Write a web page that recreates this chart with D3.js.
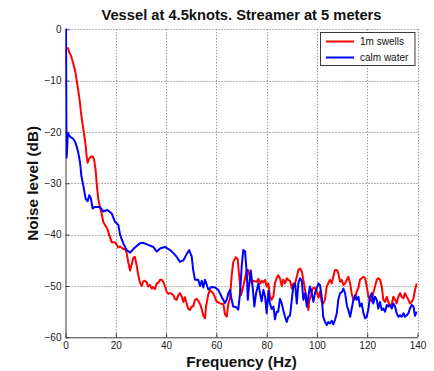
<!DOCTYPE html>
<html>
<head>
<meta charset="utf-8">
<script src="https://cdn.jsdelivr.net/npm/d3@7"></script>
<style>
  html, body { margin: 0; padding: 0; background: #fff; }
  svg { display: block; font-family: "Liberation Sans", Arial, Helvetica, sans-serif; }
</style>
</head>
<body>
<svg id="chart" width="434" height="371"></svg>
<script>
// ---------- data (frequency in Hz, noise level in dB) ----------
const titleText = "Vessel at 4.5knots. Streamer at 5 meters";
const xLabel = "Frequency (Hz)";
const yLabel = "Noise level (dB)";
const xTicks = [0, 20, 40, 60, 80, 100, 120, 140];
const yTicks = [-60, -50, -40, -30, -20, -10, 0];
const seriesNames = ["1m swells", "calm water"];
const seriesColors = ["#ff0000", "#0000ff"];

const swells = [
  [0.0,-7],[0.2,-3.7],[1.0,-3.7],[1.5,-4.5],[2.3,-5.3],[3.0,-6.5],[3.8,-8],[4.4,-9.8],
  [5.1,-12],[5.8,-14.5],[6.1,-16],[6.5,-17.5],[7.1,-19.5],[7.7,-21.5],[8.1,-23],[8.4,-24.8],
  [8.8,-26],[9.4,-25.2],[10.1,-24.8],[10.9,-24.8],[11.4,-25.5],[12.0,-27.5],[12.4,-30],
  [13.0,-32.9],[13.7,-34.6],[14.4,-36],[15.0,-37.5],[15.7,-38.1],[16.6,-38.8],[17.4,-40.1],
  [18.4,-41.5],[19.7,-41.5],[21.0,-42.5],[21.7,-42.3],[23.0,-42.8],[23.7,-42.8],[24.3,-43.5],
  [25.0,-45.5],[25.7,-47],[26.3,-45.8],[27.0,-44.5],[27.6,-44.3],[28.3,-46],[29.0,-48],
  [29.6,-49.3],[30.3,-50],[30.9,-49.1],[31.6,-49],[32.3,-49.3],[32.9,-50.1],[33.6,-49.8],
  [34.3,-50.5],[34.9,-50.2],[35.6,-50.6],[36.3,-49.5],[36.9,-49.4],[37.6,-48.8],[38.3,-48.8],
  [38.9,-49.2],[39.6,-50.1],[40.3,-51.2],[40.9,-51.5],[41.6,-51.4],[42.2,-51.5],[42.9,-51.8],
  [43.5,-52.5],[44.2,-52.7],[44.9,-51.8],[45.5,-51.4],[46.2,-52],[46.9,-53.1],[47.5,-52.2],
  [48.2,-53.5],[48.8,-54.4],[49.5,-54.7],[50.2,-54],[50.8,-54],[51.5,-52.7],[52.2,-52.5],
  [52.8,-52.9],[53.5,-53.5],[54.2,-54.5],[54.8,-55.8],[55.5,-56.3],[55.9,-54],[56.8,-51.6],
  [57.5,-50.8],[58.8,-51.5],[60.1,-53],[61.5,-53.4],[62.8,-53.5],[63.4,-55.5],[64.1,-56],
  [64.8,-53.4],[65.4,-52.5],[66.1,-48],[66.7,-45.4],[67.7,-44.4],[68.5,-44.8],[69.1,-48.2],
  [69.8,-51.8],[70.5,-50.5],[71.4,-48.5],[72.1,-46.9],[72.7,-46.9],[73.4,-48.5],[74.1,-49.5],
  [74.7,-49],[76.1,-49.2],[76.7,-48.6],[77.4,-49.6],[78.0,-49],[78.7,-49.3],[79.4,-48.8],
  [80.0,-50.1],[80.7,-49.5],[81.3,-52],[82.0,-52.7],[82.7,-52],[83.3,-49.5],[84.0,-48.5],
  [84.6,-47.9],[85.3,-48.5],[86.0,-50],[86.6,-48.8],[87.3,-49.5],[88.0,-48.5],[88.6,-48.8],
  [89.3,-49],[90.0,-50.5],[90.6,-49.5],[91.3,-49.5],[92.0,-48.2],[92.6,-46.9],[93.3,-46.6],
  [94.0,-47.2],[94.6,-48.8],[95.3,-50.8],[96.0,-52.7],[96.6,-54.7],[97.0,-52.7],[97.7,-51.8],
  [98.2,-50.5],[99.0,-50.3],[99.9,-51.1],[100.6,-52.3],[101.2,-51.1],[101.9,-53.1],[102.5,-53.4],
  [103.2,-52.7],[103.9,-50.1],[104.5,-49.5],[105.2,-48.8],[105.9,-49.5],[106.5,-48.2],[107.2,-46.9],
  [107.9,-46.9],[108.5,-47.5],[109.2,-49.2],[109.9,-48.8],[110.5,-49.8],[111.2,-49.5],[111.9,-48.8],
  [112.5,-48.2],[113.2,-49.5],[113.8,-51.4],[114.5,-52.7],[115.2,-52.5],[115.8,-51.1],[116.5,-50.4],
  [117.1,-48.8],[117.8,-48.5],[118.5,-48.2],[119.2,-48.5],[119.8,-50.1],[120.5,-52.1],[121.1,-52.7],
  [121.8,-53],[122.4,-51.4],[123.1,-50.1],[123.8,-48.8],[124.4,-48.5],[125.1,-48.8],[125.8,-50.1],
  [126.4,-52.7],[127.1,-53.1],[127.8,-52.1],[128.4,-53.1],[129.1,-54],[129.8,-53.4],[130.4,-52.1],
  [131.1,-52.7],[131.7,-53.4],[132.4,-52.1],[133.1,-51.4],[133.7,-52.1],[134.4,-52.4],[135.0,-51.4],
  [135.7,-52.1],[136.4,-52.7],[137.0,-53.4],[137.7,-53.1],[138.4,-52.4],[139.0,-50.8],[139.7,-49.5]
];

const calm = [
  [0.0,-12],[0.2,0],[0.4,-25],[0.6,-24],[0.9,-20.3],[1.4,-20.6],[2.0,-21],[3.0,-21.3],[3.8,-21.9],
  [4.5,-22.9],[5.1,-24.1],[5.8,-26],[6.3,-28.5],[7.1,-30.5],[8.0,-33],[8.8,-33.5],[9.5,-32.3],
  [10.1,-33],[10.8,-34.9],[11.7,-34.6],[13.7,-34.6],[15.0,-35.5],[16.6,-35.2],[18.4,-35.9],
  [19.7,-37.5],[21.0,-38.1],[21.7,-40],[23.0,-41.7],[24.3,-43],[25.7,-43.5],[27.6,-42.5],
  [29.6,-41.7],[30.9,-41.6],[32.9,-42],[34.9,-42.4],[36.3,-43.3],[37.6,-42.7],[39.5,-42.4],
  [41.6,-43],[42.9,-43.6],[44.2,-44.3],[45.5,-45.3],[46.9,-45],[48.2,-43.8],[49.2,-43],
  [50.2,-44.3],[50.8,-46.9],[51.5,-48.8],[52.8,-48.8],[53.5,-50],[54.2,-49],[54.8,-50.3],
  [55.5,-48.8],[56.2,-49.8],[56.8,-50.7],[58.2,-50.2],[59.5,-50.3],[60.8,-50.8],[62.1,-52.1],
  [63.4,-53.3],[64.1,-52.7],[64.8,-51.4],[65.4,-50.8],[66.1,-52.7],[66.7,-54],[68.1,-54.2],
  [68.7,-54.6],[69.4,-51.5],[70.1,-46],[70.7,-43],[71.4,-43.2],[72.1,-47.5],[72.5,-52.7],
  [73.1,-49.5],[73.7,-47],[74.5,-50.5],[75.1,-54],[75.8,-51.4],[76.7,-49.5],[77.4,-51.5],
  [78.0,-53],[78.7,-50.8],[79.4,-52.1],[80.0,-55.3],[80.7,-51],[81.3,-53.4],[82.0,-54.5],
  [82.7,-54],[83.3,-56.5],[84.0,-55],[84.6,-55],[85.3,-52.5],[86.0,-53.4],[86.6,-54.7],
  [87.3,-56],[88.0,-57],[88.6,-56],[89.3,-55.8],[90.0,-52.7],[90.6,-50.1],[91.3,-49.5],
  [92.0,-53.4],[92.6,-49.5],[93.3,-48.5],[94.0,-49],[94.6,-52.7],[95.3,-51.4],[96.0,-54],
  [96.6,-52],[97.2,-50.1],[97.9,-51.3],[98.6,-53.1],[99.2,-51.4],[99.9,-50.5],[100.6,-49.5],
  [101.2,-49.8],[101.9,-52.1],[102.5,-56],[103.2,-57],[103.9,-57.6],[104.5,-57],[105.2,-57.3],
  [105.9,-56.8],[106.5,-57.5],[107.2,-56.6],[107.9,-55.3],[108.5,-52.7],[109.2,-51.4],[109.9,-51.2],
  [110.5,-50.5],[111.2,-51.4],[111.9,-53.8],[112.5,-54.7],[113.2,-56],[113.8,-54.5],[114.5,-52.7],
  [115.2,-51.8],[115.8,-52.7],[116.5,-52.1],[117.1,-54],[117.8,-53.4],[118.5,-55.3],[119.2,-56.3],
  [119.8,-56],[120.5,-54.4],[121.1,-52.1],[121.8,-51.4],[122.4,-53.4],[123.1,-52.1],[123.8,-52.7],
  [124.4,-54.4],[125.1,-53.1],[125.8,-54.7],[126.4,-54.4],[127.1,-55],[127.8,-53.7],[128.4,-54],
  [129.1,-53.7],[129.8,-54.4],[130.4,-53.4],[131.1,-54],[131.7,-55.3],[132.4,-56],[133.1,-55.7],
  [133.7,-56],[134.4,-55.3],[135.0,-56],[135.7,-55.7],[136.4,-55.3],[137.0,-54.4],[137.7,-53.7],
  [138.4,-54],[139.0,-55.8],[139.7,-55]
];

// ---------- layout ----------
const svg = d3.select("#chart");
const pLeft = 65.5, pRight = 417.5, pTop = 29.3, pBottom = 337.3;
const x = d3.scaleLinear().domain([0, 140]).range([pLeft, pRight]);
const y = d3.scaleLinear().domain([-60, 0]).range([pBottom, pTop]);
const axisColor = "#3a3a3a";

svg.append("defs").append("clipPath").attr("id", "plotclip")
  .append("rect").attr("x", pLeft).attr("y", pTop - 1)
  .attr("width", pRight - pLeft).attr("height", pBottom - pTop + 1);

// grid
const grid = svg.append("g").attr("stroke", "#6a6a6a").attr("stroke-width", 1)
  .attr("stroke-dasharray", "1,2").attr("fill", "none");
grid.selectAll("line.vx").data(xTicks.filter(d => d > 0)).enter().append("line")
  .attr("x1", d => Math.round(x(d)) + 0.5).attr("x2", d => Math.round(x(d)) + 0.5)
  .attr("y1", pTop).attr("y2", pBottom);
grid.selectAll("line.hy").data(yTicks.filter(d => d > -60)).enter().append("line")
  .attr("x1", pLeft).attr("x2", pRight)
  .attr("y1", d => Math.round(y(d)) + 0.5).attr("y2", d => Math.round(y(d)) + 0.5);

// axes
const xAxis = d3.axisBottom(x).tickValues(xTicks).tickSize(-4).tickSizeOuter(0).tickPadding(5);
const yAxis = d3.axisLeft(y).tickValues(yTicks).tickSize(-4).tickSizeOuter(0).tickPadding(4);

const gx = svg.append("g").attr("transform", `translate(0,${pBottom})`).call(xAxis);
const gy = svg.append("g").attr("transform", `translate(${pLeft},0)`).call(yAxis);
[gx, gy].forEach(g => {
  g.select(".domain").attr("stroke", axisColor);
  g.selectAll(".tick line").attr("stroke", axisColor);
  g.selectAll(".tick text").attr("fill", "#222").style("font-size", "10px")
    .style("font-family", '"Liberation Sans", Arial, sans-serif');
});

// series
const line = d3.line().x(d => x(d[0])).y(d => y(d[1]));
const plot = svg.append("g").attr("clip-path", "url(#plotclip)");
[swells, calm].forEach((data, i) => {
  plot.append("path").datum(data)
    .attr("fill", "none").attr("stroke", seriesColors[i])
    .attr("stroke-width", 2).attr("stroke-linejoin", "round")
    .attr("d", line);
});

// title and labels
svg.append("text").attr("x", (pLeft + pRight) / 2).attr("y", 19.5)
  .attr("text-anchor", "middle").style("font-weight", "bold").style("font-size", "14.7px")
  .attr("fill", "#111").text(titleText);
svg.append("text").attr("x", (pLeft + pRight) / 2).attr("y", 366.5)
  .attr("text-anchor", "middle").style("font-weight", "bold").style("font-size", "15.3px")
  .attr("fill", "#111").text(xLabel);
svg.append("text").attr("transform", `translate(38,${(pTop + pBottom) / 2}) rotate(-90)`)
  .attr("text-anchor", "middle").style("font-weight", "bold").style("font-size", "15.3px")
  .attr("fill", "#111").text(yLabel);

// legend
const lg = svg.append("g");
lg.append("rect").attr("x", 320.5).attr("y", 32.5).attr("width", 94.5).attr("height", 33)
  .attr("fill", "#fff").attr("stroke", axisColor).attr("stroke-width", 1);
seriesNames.forEach((name, i) => {
  const ly = 41.5 + i * 16;
  lg.append("line").attr("x1", 326).attr("x2", 354).attr("y1", ly).attr("y2", ly)
    .attr("stroke", seriesColors[i]).attr("stroke-width", 2);
  lg.append("text").attr("x", 360).attr("y", ly).attr("dy", "0.35em")
    .style("font-size", "10px").attr("fill", "#111").text(name);
});
</script>
</body>
</html>
